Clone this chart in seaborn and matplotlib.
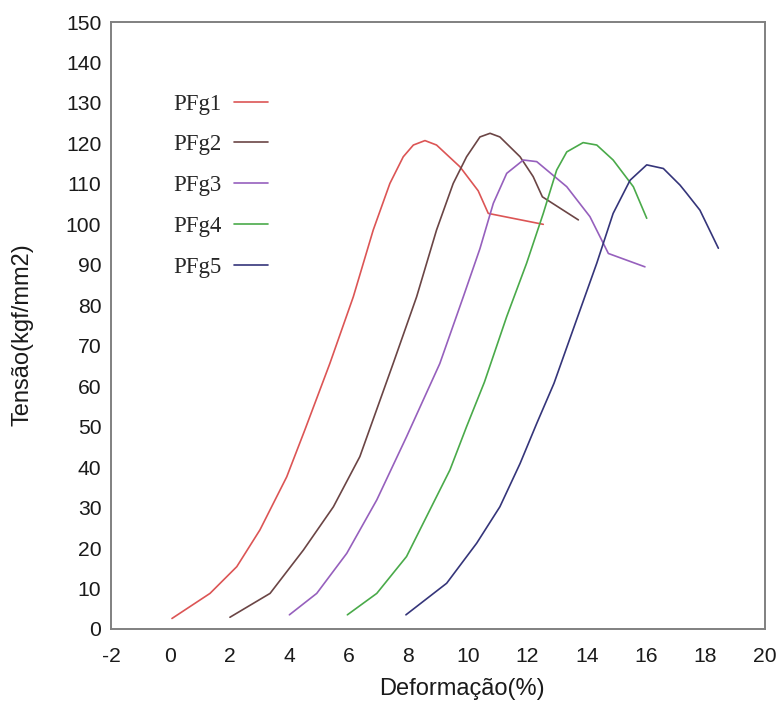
import matplotlib
matplotlib.use("Agg")
import matplotlib.pyplot as plt
import seaborn as sns
import pandas as pd

# Stress-strain curves for five specimens (strain in %, stress in kgf/mm2)
pfg1_x = [0.05, 1.33, 2.23, 3.01, 3.91, 4.52, 5.36, 6.15, 6.82, 7.38, 7.83, 8.17, 8.56, 8.95, 9.74, 10.35, 10.69, 12.54]
pfg1_y = [2.6, 8.8, 15.4, 24.5, 37.6, 49.2, 65.6, 82.1, 98.6, 110.1, 116.7, 119.6, 120.7, 119.6, 114.2, 108.3, 102.7, 100.0]

pfg2_x = [2.00, 3.35, 4.47, 5.48, 6.37, 7.49, 8.28, 8.95, 9.51, 9.96, 10.41, 10.75, 11.08, 11.76, 12.20, 12.51, 13.72]
pfg2_y = [2.9, 8.8, 19.5, 30.2, 42.6, 65.6, 82.1, 98.6, 110.1, 116.7, 121.6, 122.5, 121.6, 116.7, 111.8, 106.8, 101.1]

pfg3_x = [4.00, 4.92, 5.93, 6.94, 7.94, 9.06, 9.85, 10.41, 10.86, 11.31, 11.87, 12.32, 13.33, 14.11, 14.56, 14.73, 15.96]
pfg3_y = [3.5, 8.8, 18.7, 31.9, 47.5, 65.6, 82.1, 94.0, 105.2, 112.6, 115.9, 115.5, 109.3, 101.9, 95.3, 92.8, 89.5]

pfg4_x = [5.95, 6.94, 7.94, 8.84, 9.40, 9.96, 10.56, 11.31, 11.98, 12.54, 12.99, 13.33, 13.88, 14.34, 14.89, 15.57, 16.02]
pfg4_y = [3.5, 8.8, 17.9, 31.1, 39.3, 50.0, 61.0, 77.2, 90.4, 102.7, 113.4, 117.9, 120.2, 119.6, 115.9, 109.3, 101.5]

pfg5_x = [7.92, 9.29, 10.30, 11.08, 11.76, 12.32, 12.90, 13.66, 14.34, 14.89, 15.46, 16.02, 16.58, 17.14, 17.36, 17.81, 18.43]
pfg5_y = [3.5, 11.3, 21.2, 30.2, 40.9, 50.8, 60.7, 76.4, 90.4, 102.7, 110.9, 114.7, 113.8, 109.7, 107.7, 103.5, 94.1]

series_names = ["PFg1", "PFg2", "PFg3", "PFg4", "PFg5"]
series_x = [pfg1_x, pfg2_x, pfg3_x, pfg4_x, pfg5_x]
series_y = [pfg1_y, pfg2_y, pfg3_y, pfg4_y, pfg5_y]
series_colors = ["#dc5555", "#6b4545", "#9660bd", "#4aaa4a", "#35357a"]

x_ticks = [-2, 0, 2, 4, 6, 8, 10, 12, 14, 16, 18, 20]
y_ticks = [0, 10, 20, 30, 40, 50, 60, 70, 80, 90, 100, 110, 120, 130, 140, 150]

frames = []
for name, xs, ys in zip(series_names, series_x, series_y):
    frames.append(pd.DataFrame({"strain": xs, "stress": ys, "sample": name}))
df = pd.concat(frames, ignore_index=True)

sns.set_style("white")
plt.rcParams["font.family"] = ["Liberation Sans", "DejaVu Sans"]

fig = plt.figure(figsize=(7.77, 7.15), dpi=100)
ax = fig.add_axes([0.1429, 0.1203, 0.8417, 0.8489])

sns.lineplot(data=df, x="strain", y="stress", hue="sample", hue_order=series_names,
             palette=series_colors, sort=False, estimator=None, units="sample",
             linewidth=1.2, ax=ax)

ax.set_xlim(-2, 20)
ax.set_ylim(0, 150)
ax.set_xticks(x_ticks)
ax.set_yticks(y_ticks)
ax.set_xticklabels([str(t) for t in x_ticks])
ax.set_yticklabels([str(t) for t in y_ticks])
ax.tick_params(axis="x", length=0, pad=13, labelsize=15.2, colors="#1a1a1a")
ax.tick_params(axis="y", length=0, pad=7, labelsize=15.2, colors="#1a1a1a")

for side in ["left", "right", "top", "bottom"]:
    ax.spines[side].set_visible(True)
    ax.spines[side].set_color("#808080")
    ax.spines[side].set_linewidth(1.4)

ax.set_xlabel("Deformação(%)", fontsize=17, color="#1a1a1a")
ax.set_ylabel("Tensão(kgf/mm2)", fontsize=17, color="#1a1a1a")
ax.xaxis.set_label_coords(0.537, -0.080)
ax.yaxis.set_label_coords(-0.118, 0.485)

handles, labels = ax.get_legend_handles_labels()
ax.legend(handles, labels, loc="upper left", bbox_to_anchor=(0.2227, 0.869),
          bbox_transform=fig.transFigure, frameon=False, markerfirst=False,
          prop={"family": "Liberation Serif", "size": 16.5},
          handlelength=1.5, handletextpad=0.55, labelspacing=0.86,
          borderpad=0, borderaxespad=0)

fig.savefig("out.png", dpi=100)
